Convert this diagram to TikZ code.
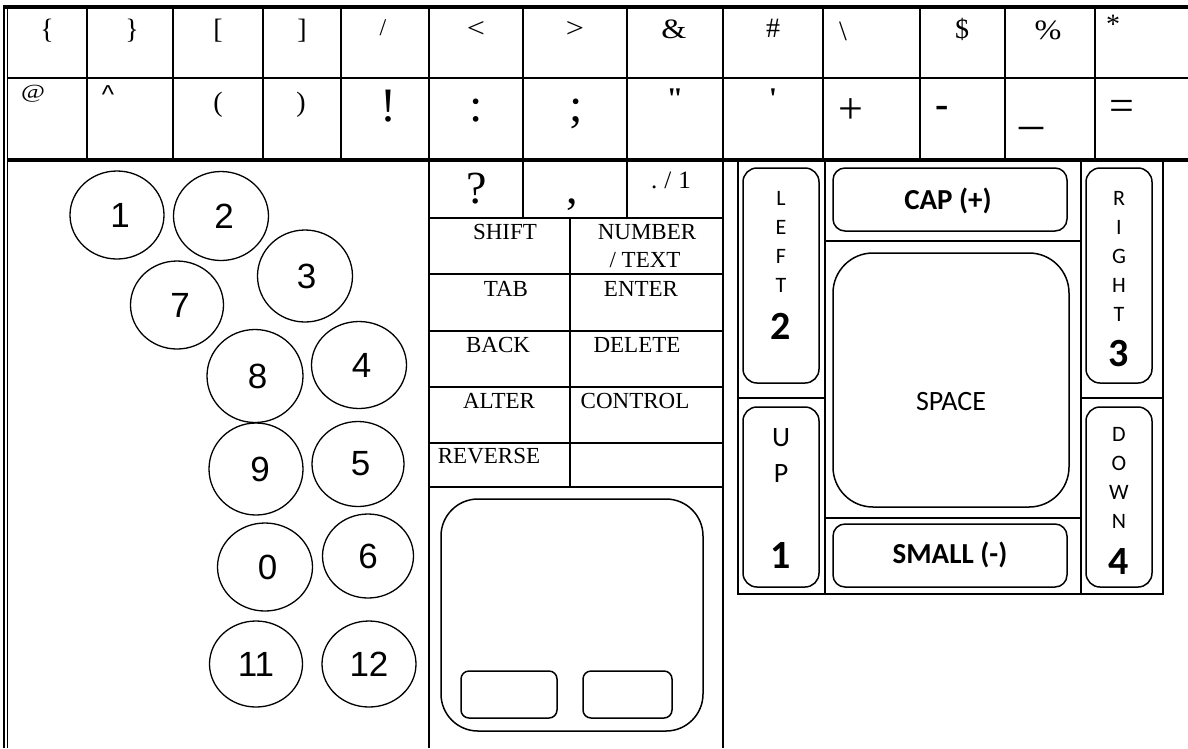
\documentclass[tikz,border=0pt]{standalone}
\usepackage{fontspec}
\usepackage{graphicx}
\setmainfont{Liberation Serif}
\newfontfamily\carl{Carlito}
\newfontfamily\arialf{Liberation Sans}
\usetikzlibrary{shapes.geometric}
\newcommand{\wid}[1]{\scalebox{1.15}[1]{#1}}
\begin{document}
\begin{tikzpicture}[x=1pt,y=-1pt,
  gridl/.style={line width=2.2pt},
  heavyl/.style={line width=3.2pt},
  dbl/.style={line width=1.4pt},
  keyc/.style={draw, ellipse, line width=1.3pt, inner sep=0pt, font=\arialf\fontsize{35}{35}\selectfont},
  rkey/.style={draw, line width=1.5pt, rounded corners=#1},
  symA/.style={inner sep=0pt, font=\fontsize{28}{28}\selectfont},
  symB/.style={inner sep=0pt, font=\fontsize{48}{48}\selectfont},
  symC/.style={inner sep=0pt, font=\fontsize{44}{44}\selectfont},
  mtxt/.style={inner sep=0pt, font=\fontsize{23}{28}\selectfont},
  vlet/.style={inner sep=0pt, anchor=north, align=center, font=\carl\fontsize{22}{29}\selectfont},
  bnum/.style={inner sep=0pt, font=\carl\bfseries\fontsize{40}{40}\selectfont},
  bword/.style={inner sep=0pt, font=\carl\bfseries\fontsize{29}{29}\selectfont}
]
\useasboundingbox (0,0) rectangle (1188,748);
\fill[white] (0,0) rectangle (1188,748);

% ---------- grid ----------
\draw[dbl] (4,5.4) -- (4,748);
\draw[dbl] (7.5,7) -- (7.5,748);
\draw[heavyl] (3.3,7) -- (1188,7);
\draw[gridl] (7,78) -- (1188,78);
\draw[heavyl] (7,160) -- (1188,160);
\foreach \xx in {87,173,263,341,523,627,823,920,1005,1095}
  \draw[gridl] (\xx,7) -- (\xx,160);
\draw[gridl] (429,7) -- (429,748);
\draw[gridl] (723,7) -- (723,748);

% middle panel
\foreach \yy in {218,274,331,387,443,487}
  \draw[gridl] (429,\yy) -- (723,\yy);
\draw[gridl] (523,160) -- (523,218);
\draw[gridl] (627,160) -- (627,218);
\draw[gridl] (570,218) -- (570,487);

% right panel
\draw[gridl] (738,160) rectangle (1163,594);
\draw[gridl] (825,160) -- (825,594);
\draw[gridl] (1081,160) -- (1081,594);
\draw[gridl] (738,398) -- (825,398);
\draw[gridl] (1081,398) -- (1163,398);
\draw[gridl] (825,241) -- (1081,241);
\draw[gridl] (825,518) -- (1081,518);

% ---------- rounded keys ----------
\draw[rkey=14] (743,168) rectangle (819,383);
\draw[rkey=14] (743,407) rectangle (819,587);
\draw[rkey=14] (1086,168) rectangle (1152,383);
\draw[rkey=14] (1086,407) rectangle (1152,587);
\draw[rkey=12] (833,168) rectangle (1067,231);
\draw[rkey=40] (833,253) rectangle (1069,507);
\draw[rkey=12] (833,524) rectangle (1067,587);
% touchpad
\draw[rkey=37] (441,499) rectangle (703,731);
\draw[rkey=8] (461,671) rectangle (557,718);
\draw[rkey=8] (583,671) rectangle (672,718);

% ---------- row 1 ----------
\node[symA] (r1a) at (47,31) {\{};
\node[symA] (r1b) at (132,31) {\}};
\node[symA] (r1c) at (218,31) {[};
\node[symA] (r1d) at (302,31) {]};
\node[symA, font=\fontsize{24}{24}\selectfont] (r1e) at (383,28) {/};
\node[symA] (r1f) at (476,29) {\wid{<}};
\node[symA] (r1g) at (575,29) {\wid{>}};
\node[symA] (r1h) at (674,29) {\wid{\&}};
\node[symA] (r1i) at (773,28) {\#};
\node[symA] (r1j) at (843,31) {\textbackslash};
\node[symA] (r1k) at (962,29) {\$};
\node[symA] (r1l) at (1048,30) {\wid{\%}};
\node[symA] (r1m) at (1113,24) {*};

% ---------- row 2 ----------
\node[inner sep=0pt, font=\fontsize{20}{20}\selectfont] (r2a) at (33,94) {\scalebox{1.3}[1]{@}};
\node[inner sep=0pt, font=\arialf\fontsize{26}{26}\selectfont] (r2b) at (108,95) {\textasciicircum};
\node[symA] (r2c) at (218,105) {(};
\node[symA] (r2d) at (301,105) {)};
\node[symB] (r2e) at (388,106) {!};
\node[symB] (r2f) at (476,111) {:};
\node[symB] (r2g) at (576,114) {;};
\node[inner sep=0pt, font=\bfseries\fontsize{30}{30}\selectfont] (r2h) at (675,99) {\textquotedbl};
\node[inner sep=0pt, font=\bfseries\fontsize{30}{30}\selectfont] (r2i) at (773,99) {\textquotesingle};
\node[symC] (r2j) at (851,111) {+};
\node[symC, font=\bfseries\fontsize{40}{40}\selectfont] (r2k) at (942,112) {-};
\node[symB] (r2l) at (1031,127) {\_};
\node[symC] (r2m) at (1122,110) {=};

% ---------- middle panel texts ----------
\node[inner sep=0pt, font=\fontsize{46}{46}\selectfont] (qm) at (477,189) {?};
\node[inner sep=0pt, font=\fontsize{46}{46}\selectfont] (cm) at (572,205) {,};
\node[inner sep=0pt, font=\fontsize{25}{25}\selectfont] (dot) at (671,180) {.\hspace{7pt}/\hspace{7pt}1};
\node[mtxt] (shift) at (505,232) {SHIFT};
\node[mtxt] (numb) at (647,232) {NUMBER};
\node[mtxt] (text) at (645,260) {/ TEXT};
\node[mtxt] (tab) at (506,289) {TAB};
\node[mtxt] (enter) at (641,289) {ENTER};
\node[mtxt] (back) at (498,345) {BACK};
\node[mtxt] (del) at (637,345) {DELETE};
\node[mtxt] (alter) at (499,401) {ALTER};
\node[mtxt] (ctrl) at (635,401) {CONTROL};
\node[mtxt] (rev) at (489,456) {REVERSE};

% ---------- right panel texts ----------
\node[vlet] (lefttxt) at (781,191) {L\\E\\F\\T};
\node[bnum] (leftnum) at (781,326) {2};
\node[vlet] (righttxt) at (1119,191) {R\\I\\G\\H\\T};
\node[bnum] (rightnum) at (1119,354) {3};
\node[vlet, font=\carl\fontsize{28}{36.5}\selectfont] (uptxt) at (781,428) {U\\P};
\node[bnum] (upnum) at (781,555) {1};
\node[vlet] (downtxt) at (1119,427) {D\\O\\W\\N};
\node[bnum] (downnum) at (1119,562) {4};
\node[bword] (cap) at (948,201) {CAP (+)};
\node[inner sep=0pt, font=\carl\fontsize{28}{28}\selectfont] (space) at (951,401) {SPACE};
\node[bword] (small) at (950,555) {SMALL (-)};

% ---------- number circles ----------
\node[keyc, minimum width=94pt, minimum height=88pt] (c1) at (117,215) {\hspace{6pt}1};
\node[keyc, minimum width=95pt, minimum height=89pt] (c2) at (221,216) {\hspace{6pt}2};
\node[keyc, minimum width=95pt, minimum height=92pt] (c3) at (305,276) {\hspace{3pt}3};
\node[keyc, minimum width=93pt, minimum height=88pt] (c7) at (177,305) {\hspace{6pt}7};
\node[keyc, minimum width=96pt, minimum height=93pt] (c8) at (255,376) {\hspace{5pt}8};
\node[keyc, minimum width=95pt, minimum height=87pt] (c4) at (359,365) {\hspace{5pt}4};
\node[keyc, minimum width=94pt, minimum height=92pt] (c9) at (256,469) {\hspace{8pt}9};
\node[keyc, minimum width=92pt, minimum height=85pt] (c5) at (358,464) {\hspace{5pt}5};
\node[keyc, minimum width=95pt, minimum height=88pt] (c0) at (265,567) {\hspace{5pt}0};
\node[keyc, minimum width=91pt, minimum height=84pt] (c6) at (368,556) {6};
\node[keyc, minimum width=93pt, minimum height=86pt] (c11) at (256,664) {11};
\node[keyc, minimum width=94pt, minimum height=86pt] (c12) at (369,664) {12};
\end{tikzpicture}
\end{document}
